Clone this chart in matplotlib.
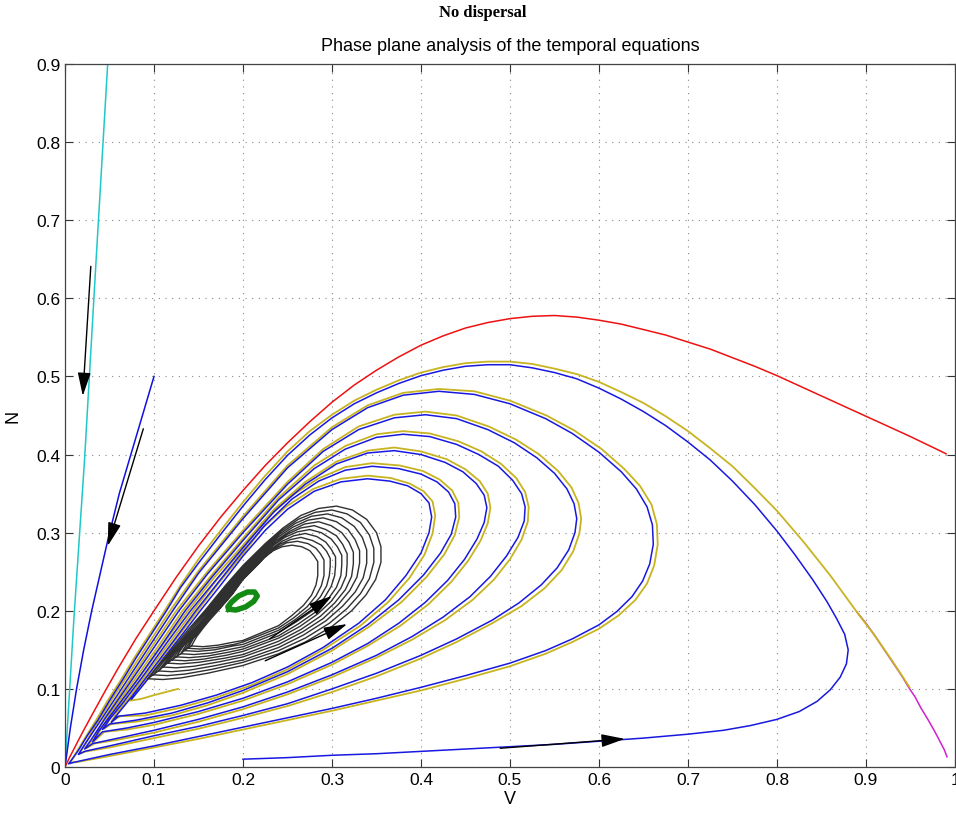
import matplotlib.pyplot as plt
import numpy as np

# trajectories, (V, N) pairs
cyan_line = [(0.0, 0.0), (0.010, 0.19), (0.022, 0.394), (0.035, 0.65), (0.049, 0.92)]

blue_left = [(0.1, 0.5), (0.087, 0.45), (0.074, 0.4), (0.061, 0.35), (0.048, 0.29),
             (0.038, 0.24), (0.03, 0.2), (0.021, 0.15), (0.013, 0.1), (0.006, 0.05), (0.0, 0.0)]

red_curve = [(0.0, 0.0), (0.005, 0.012), (0.01, 0.023), (0.02, 0.045), (0.03, 0.066), (0.045, 0.097),
             (0.06, 0.127), (0.08, 0.165), (0.1, 0.2), (0.125, 0.243), (0.15, 0.283), (0.175, 0.32),
             (0.2, 0.354), (0.225, 0.386), (0.25, 0.415), (0.275, 0.442), (0.3, 0.467), (0.325, 0.489),
             (0.35, 0.508), (0.375, 0.525), (0.4, 0.54), (0.425, 0.552), (0.45, 0.562), (0.475, 0.569),
             (0.5, 0.574), (0.525, 0.577), (0.55, 0.578), (0.575, 0.576), (0.6, 0.572), (0.625, 0.567),
             (0.65, 0.56), (0.675, 0.553), (0.7, 0.544), (0.725, 0.535), (0.75, 0.524), (0.775, 0.513),
             (0.8, 0.501), (0.825, 0.488), (0.85, 0.475), (0.875, 0.462), (0.9, 0.449), (0.925, 0.436),
             (0.95, 0.423), (0.97, 0.412), (0.99, 0.401)]

magenta_tail = [(0.991, 0.013), (0.988, 0.022), (0.983, 0.033), (0.977, 0.046), (0.97, 0.06),
                (0.962, 0.075), (0.955, 0.09), (0.949, 0.1), (0.94, 0.117), (0.93, 0.134), (0.92, 0.151),
                (0.91, 0.168), (0.9, 0.184), (0.89, 0.198)]

blue_spiral = [
    [(0.2, 0.010), (0.25, 0.012), (0.3, 0.015), (0.35, 0.017), (0.4, 0.02), (0.45, 0.023), (0.5, 0.026),
     (0.55, 0.029), (0.6, 0.033), (0.65, 0.037), (0.7, 0.042), (0.74, 0.047), (0.77, 0.053), (0.8, 0.061),
     (0.825, 0.071), (0.845, 0.084), (0.86, 0.099), (0.871, 0.115), (0.878, 0.132), (0.88, 0.15),
     (0.876, 0.17), (0.867, 0.19), (0.856, 0.212), (0.84, 0.24), (0.82, 0.272), (0.8, 0.302),
     (0.775, 0.336), (0.75, 0.366), (0.725, 0.393), (0.7, 0.416), (0.675, 0.437), (0.65, 0.455),
     (0.625, 0.471), (0.6, 0.485), (0.575, 0.497), (0.55, 0.505), (0.525, 0.511), (0.5, 0.515),
     (0.475, 0.515), (0.45, 0.513), (0.425, 0.508), (0.4, 0.501), (0.375, 0.491), (0.35, 0.479),
     (0.325, 0.465), (0.3, 0.447), (0.275, 0.425), (0.25, 0.399), (0.225, 0.368), (0.2, 0.334),
     (0.175, 0.298), (0.15, 0.261), (0.13, 0.23), (0.114, 0.2), (0.097, 0.17), (0.08, 0.14),
     (0.065, 0.112), (0.05, 0.085), (0.037, 0.06), (0.025, 0.04), (0.016, 0.023), (0.01, 0.013),
     (0.004, 0.004)],
    [(0.01, 0.006), (0.05, 0.016), (0.1, 0.027), (0.15, 0.039), (0.2, 0.051), (0.25, 0.063), (0.3, 0.075),
     (0.35, 0.088), (0.4, 0.102), (0.45, 0.117), (0.5, 0.133), (0.54, 0.149), (0.57, 0.164), (0.6, 0.182),
     (0.62, 0.199), (0.637, 0.218), (0.649, 0.238), (0.657, 0.26), (0.661, 0.285), (0.66, 0.31),
     (0.654, 0.333), (0.642, 0.356), (0.625, 0.378), (0.6, 0.403), (0.57, 0.427), (0.54, 0.446),
     (0.5, 0.465), (0.46, 0.477), (0.42, 0.481), (0.38, 0.476), (0.34, 0.46), (0.3, 0.432), (0.25, 0.383),
     (0.2, 0.318), (0.15, 0.248), (0.121, 0.2), (0.09, 0.146), (0.06, 0.094), (0.035, 0.051),
     (0.02, 0.025), (0.015, 0.016)],
    [(0.022, 0.02), (0.05, 0.027), (0.1, 0.04), (0.15, 0.052), (0.2, 0.066), (0.25, 0.081), (0.3, 0.1),
     (0.35, 0.12), (0.4, 0.143), (0.44, 0.164), (0.48, 0.188), (0.51, 0.21), (0.535, 0.233), (0.553, 0.255),
     (0.566, 0.278), (0.573, 0.3), (0.575, 0.318), (0.572, 0.337), (0.564, 0.356), (0.55, 0.376),
     (0.53, 0.396), (0.505, 0.415), (0.475, 0.432), (0.44, 0.446), (0.405, 0.451), (0.37, 0.447),
     (0.33, 0.432), (0.29, 0.404), (0.25, 0.362), (0.2, 0.3), (0.16, 0.247), (0.128, 0.2), (0.1, 0.153),
     (0.07, 0.103), (0.045, 0.062), (0.03, 0.036), (0.022, 0.023)],
    [(0.031, 0.03), (0.06, 0.037), (0.1, 0.047), (0.15, 0.061), (0.2, 0.077), (0.25, 0.096), (0.3, 0.118),
     (0.35, 0.143), (0.39, 0.167), (0.425, 0.192), (0.455, 0.218), (0.478, 0.244), (0.496, 0.27),
     (0.509, 0.294), (0.516, 0.315), (0.517, 0.333), (0.513, 0.35), (0.503, 0.367), (0.487, 0.385),
     (0.465, 0.4), (0.44, 0.413), (0.41, 0.423), (0.38, 0.426), (0.35, 0.422), (0.315, 0.407),
     (0.28, 0.382), (0.24, 0.342), (0.2, 0.29), (0.165, 0.243), (0.135, 0.2), (0.108, 0.155),
     (0.08, 0.11), (0.055, 0.072), (0.038, 0.046), (0.031, 0.032)],
    [(0.042, 0.045), (0.07, 0.05), (0.1, 0.057), (0.15, 0.071), (0.2, 0.088), (0.25, 0.109), (0.3, 0.134),
     (0.34, 0.158), (0.375, 0.184), (0.405, 0.211), (0.43, 0.239), (0.449, 0.266), (0.463, 0.292),
     (0.471, 0.313), (0.474, 0.332), (0.471, 0.348), (0.462, 0.363), (0.447, 0.378), (0.427, 0.39),
     (0.4, 0.4), (0.37, 0.405), (0.34, 0.402), (0.305, 0.388), (0.27, 0.362), (0.235, 0.327),
     (0.2, 0.281), (0.17, 0.24), (0.141, 0.2), (0.115, 0.16), (0.09, 0.12), (0.065, 0.082),
     (0.05, 0.061), (0.042, 0.048)],
    [(0.05, 0.055), (0.08, 0.06), (0.12, 0.069), (0.16, 0.082), (0.2, 0.098), (0.25, 0.122), (0.3, 0.152),
     (0.34, 0.182), (0.375, 0.214), (0.403, 0.246), (0.422, 0.274), (0.434, 0.298), (0.439, 0.32),
     (0.438, 0.337), (0.431, 0.352), (0.418, 0.365), (0.4, 0.375), (0.375, 0.382), (0.345, 0.385),
     (0.315, 0.38), (0.285, 0.366), (0.255, 0.343), (0.225, 0.31), (0.2, 0.276), (0.172, 0.236),
     (0.147, 0.2), (0.125, 0.166), (0.1, 0.128), (0.075, 0.09), (0.06, 0.069), (0.052, 0.057)],
    [(0.06, 0.065), (0.09, 0.069), (0.13, 0.079), (0.17, 0.092), (0.21, 0.108), (0.25, 0.128),
     (0.29, 0.153), (0.33, 0.184), (0.36, 0.214), (0.383, 0.245), (0.4, 0.274), (0.409, 0.3),
     (0.412, 0.32), (0.409, 0.338), (0.4, 0.35), (0.385, 0.36), (0.365, 0.366), (0.34, 0.369),
     (0.31, 0.365), (0.28, 0.353), (0.25, 0.33), (0.225, 0.303), (0.2, 0.27), (0.175, 0.233),
     (0.152, 0.2), (0.132, 0.17), (0.11, 0.138), (0.09, 0.108), (0.075, 0.087)],
]

yellow_spiral = [
    [(0.949, 0.102), (0.93, 0.135), (0.91, 0.168), (0.89, 0.198), (0.86, 0.245), (0.83, 0.288),
     (0.8, 0.328), (0.775, 0.357), (0.75, 0.385), (0.725, 0.408), (0.7, 0.43), (0.675, 0.449),
     (0.65, 0.466), (0.625, 0.48), (0.6, 0.493), (0.575, 0.503), (0.55, 0.51), (0.525, 0.516),
     (0.5, 0.519), (0.475, 0.519), (0.45, 0.517), (0.425, 0.512), (0.4, 0.505), (0.375, 0.495),
     (0.35, 0.483), (0.325, 0.469), (0.3, 0.451), (0.275, 0.43), (0.25, 0.404), (0.225, 0.373),
     (0.2, 0.339), (0.175, 0.303), (0.15, 0.266), (0.13, 0.233), (0.112, 0.2), (0.095, 0.17),
     (0.078, 0.14), (0.062, 0.11), (0.048, 0.085), (0.035, 0.06), (0.024, 0.04), (0.015, 0.023),
     (0.009, 0.012), (0.006, 0.006)],
    [(0.012, 0.006), (0.05, 0.014), (0.1, 0.025), (0.15, 0.036), (0.2, 0.048), (0.25, 0.06), (0.3, 0.072),
     (0.35, 0.085), (0.4, 0.098), (0.45, 0.113), (0.5, 0.129), (0.54, 0.145), (0.57, 0.16), (0.6, 0.177),
     (0.622, 0.194), (0.641, 0.214), (0.654, 0.235), (0.662, 0.258), (0.666, 0.285), (0.665, 0.311),
     (0.659, 0.336), (0.646, 0.36), (0.628, 0.382), (0.603, 0.407), (0.572, 0.431), (0.541, 0.45),
     (0.5, 0.469), (0.46, 0.481), (0.42, 0.484), (0.38, 0.479), (0.34, 0.463), (0.3, 0.435),
     (0.25, 0.386), (0.2, 0.321), (0.15, 0.251), (0.118, 0.2), (0.087, 0.146), (0.057, 0.094),
     (0.033, 0.051), (0.02, 0.024), (0.016, 0.017)],
    [(0.024, 0.02), (0.05, 0.025), (0.1, 0.037), (0.15, 0.049), (0.2, 0.063), (0.25, 0.078), (0.3, 0.096),
     (0.35, 0.116), (0.4, 0.139), (0.44, 0.16), (0.48, 0.184), (0.513, 0.206), (0.539, 0.229),
     (0.558, 0.252), (0.571, 0.276), (0.578, 0.299), (0.58, 0.318), (0.577, 0.338), (0.569, 0.358),
     (0.554, 0.379), (0.533, 0.4), (0.507, 0.419), (0.476, 0.436), (0.44, 0.45), (0.405, 0.455),
     (0.37, 0.451), (0.33, 0.436), (0.29, 0.407), (0.25, 0.365), (0.2, 0.303), (0.16, 0.25),
     (0.125, 0.2), (0.097, 0.153), (0.068, 0.103), (0.044, 0.062), (0.031, 0.035), (0.024, 0.024)],
    [(0.033, 0.03), (0.06, 0.035), (0.1, 0.044), (0.15, 0.058), (0.2, 0.074), (0.25, 0.093), (0.3, 0.115),
     (0.35, 0.14), (0.39, 0.163), (0.427, 0.188), (0.458, 0.214), (0.482, 0.24), (0.5, 0.266),
     (0.513, 0.291), (0.52, 0.314), (0.521, 0.333), (0.517, 0.352), (0.507, 0.37), (0.49, 0.388),
     (0.468, 0.404), (0.442, 0.417), (0.41, 0.427), (0.38, 0.43), (0.35, 0.426), (0.315, 0.411),
     (0.28, 0.386), (0.24, 0.345), (0.2, 0.293), (0.165, 0.246), (0.132, 0.2), (0.105, 0.155),
     (0.077, 0.11), (0.053, 0.072), (0.039, 0.046), (0.033, 0.033)],
    [(0.044, 0.045), (0.07, 0.048), (0.1, 0.054), (0.15, 0.068), (0.2, 0.085), (0.25, 0.106), (0.3, 0.131),
     (0.34, 0.155), (0.377, 0.181), (0.408, 0.208), (0.434, 0.237), (0.453, 0.264), (0.467, 0.29),
     (0.475, 0.312), (0.478, 0.332), (0.475, 0.35), (0.466, 0.366), (0.45, 0.381), (0.429, 0.394),
     (0.4, 0.404), (0.37, 0.409), (0.34, 0.405), (0.305, 0.391), (0.27, 0.365), (0.235, 0.33),
     (0.2, 0.284), (0.168, 0.243), (0.138, 0.2), (0.112, 0.16), (0.087, 0.12), (0.063, 0.082),
     (0.05, 0.061), (0.044, 0.049)],
    [(0.052, 0.055), (0.08, 0.058), (0.12, 0.066), (0.16, 0.079), (0.2, 0.095), (0.25, 0.119),
     (0.3, 0.149), (0.341, 0.179), (0.378, 0.211), (0.406, 0.243), (0.426, 0.272), (0.438, 0.297),
     (0.443, 0.32), (0.442, 0.338), (0.435, 0.354), (0.421, 0.368), (0.402, 0.379), (0.376, 0.386),
     (0.345, 0.389), (0.315, 0.384), (0.284, 0.369), (0.253, 0.346), (0.222, 0.313), (0.2, 0.279),
     (0.17, 0.239), (0.144, 0.2), (0.122, 0.166), (0.097, 0.128), (0.073, 0.09), (0.058, 0.069),
     (0.052, 0.058)],
    [(0.062, 0.065), (0.09, 0.066), (0.13, 0.076), (0.17, 0.089), (0.21, 0.105), (0.25, 0.125),
     (0.29, 0.15), (0.332, 0.181), (0.363, 0.211), (0.387, 0.242), (0.404, 0.272), (0.413, 0.299),
     (0.416, 0.322), (0.413, 0.34), (0.403, 0.353), (0.387, 0.363), (0.366, 0.37), (0.34, 0.373),
     (0.31, 0.369), (0.279, 0.356), (0.248, 0.333), (0.222, 0.306), (0.2, 0.273), (0.173, 0.236),
     (0.149, 0.2), (0.129, 0.17), (0.108, 0.138), (0.088, 0.108), (0.073, 0.085), (0.085, 0.087),
     (0.1, 0.092), (0.127, 0.1)],
]

black_spiral = [
    [(0.093, 0.113), (0.11, 0.112), (0.13, 0.114), (0.16, 0.12), (0.2, 0.13), (0.24, 0.145), (0.27, 0.16),
     (0.3, 0.18), (0.322, 0.2), (0.338, 0.22), (0.349, 0.24), (0.355, 0.262), (0.355, 0.282), (0.35, 0.3),
     (0.339, 0.317), (0.323, 0.329), (0.305, 0.334), (0.285, 0.331), (0.265, 0.322), (0.245, 0.306),
     (0.225, 0.286), (0.2, 0.258), (0.18, 0.232), (0.157, 0.2), (0.14, 0.178), (0.122, 0.153),
     (0.105, 0.13), (0.093, 0.113)],
    [(0.099, 0.118), (0.115, 0.117), (0.135, 0.119), (0.165, 0.125), (0.2, 0.134), (0.24, 0.149),
     (0.27, 0.165), (0.297, 0.184), (0.317, 0.203), (0.332, 0.222), (0.342, 0.241), (0.347, 0.262),
     (0.347, 0.28), (0.342, 0.297), (0.332, 0.313), (0.317, 0.324), (0.3, 0.329), (0.281, 0.326),
     (0.262, 0.317), (0.243, 0.302), (0.224, 0.283), (0.2, 0.256), (0.181, 0.231), (0.159, 0.2),
     (0.143, 0.179), (0.127, 0.157), (0.11, 0.134), (0.099, 0.118)],
    [(0.105, 0.123), (0.12, 0.122), (0.14, 0.124), (0.17, 0.13), (0.2, 0.137), (0.24, 0.153),
     (0.268, 0.169), (0.293, 0.187), (0.312, 0.206), (0.326, 0.224), (0.335, 0.242), (0.339, 0.261),
     (0.339, 0.278), (0.334, 0.294), (0.325, 0.308), (0.311, 0.319), (0.295, 0.324), (0.277, 0.321),
     (0.259, 0.312), (0.241, 0.298), (0.223, 0.28), (0.2, 0.254), (0.182, 0.23), (0.161, 0.2),
     (0.146, 0.18), (0.131, 0.16), (0.115, 0.138), (0.105, 0.123)],
    [(0.11, 0.128), (0.125, 0.127), (0.145, 0.129), (0.175, 0.135), (0.2, 0.141), (0.24, 0.157),
     (0.267, 0.173), (0.29, 0.19), (0.307, 0.208), (0.32, 0.226), (0.328, 0.243), (0.331, 0.261),
     (0.331, 0.277), (0.326, 0.291), (0.318, 0.304), (0.305, 0.314), (0.29, 0.319), (0.273, 0.316),
     (0.256, 0.307), (0.239, 0.294), (0.222, 0.277), (0.2, 0.252), (0.183, 0.229), (0.163, 0.2),
     (0.149, 0.181), (0.135, 0.163), (0.12, 0.143), (0.11, 0.128)],
    [(0.115, 0.133), (0.13, 0.132), (0.15, 0.134), (0.178, 0.139), (0.2, 0.144), (0.24, 0.161),
     (0.265, 0.176), (0.287, 0.193), (0.303, 0.21), (0.315, 0.227), (0.322, 0.244), (0.324, 0.26),
     (0.324, 0.275), (0.319, 0.288), (0.311, 0.3), (0.299, 0.309), (0.285, 0.314), (0.269, 0.311),
     (0.253, 0.302), (0.237, 0.29), (0.221, 0.274), (0.2, 0.25), (0.184, 0.228), (0.165, 0.2),
     (0.152, 0.183), (0.139, 0.166), (0.125, 0.148), (0.115, 0.133)],
    [(0.12, 0.137), (0.135, 0.136), (0.155, 0.138), (0.181, 0.143), (0.2, 0.148), (0.24, 0.165),
     (0.264, 0.18), (0.284, 0.196), (0.299, 0.212), (0.31, 0.229), (0.316, 0.245), (0.317, 0.26),
     (0.317, 0.273), (0.312, 0.285), (0.305, 0.296), (0.293, 0.304), (0.28, 0.309), (0.265, 0.306),
     (0.25, 0.298), (0.235, 0.286), (0.22, 0.271), (0.2, 0.248), (0.184, 0.226), (0.166, 0.2),
     (0.154, 0.184), (0.142, 0.168), (0.129, 0.151), (0.12, 0.137)],
    [(0.125, 0.141), (0.14, 0.14), (0.16, 0.142), (0.184, 0.147), (0.2, 0.151), (0.24, 0.168),
     (0.262, 0.183), (0.281, 0.198), (0.295, 0.214), (0.305, 0.23), (0.31, 0.245), (0.311, 0.259),
     (0.311, 0.271), (0.306, 0.282), (0.299, 0.292), (0.288, 0.3), (0.275, 0.304), (0.261, 0.301),
     (0.247, 0.294), (0.233, 0.283), (0.219, 0.268), (0.2, 0.246), (0.185, 0.225), (0.167, 0.2),
     (0.156, 0.186), (0.145, 0.171), (0.133, 0.155), (0.125, 0.141)],
    [(0.13, 0.145), (0.145, 0.144), (0.165, 0.146), (0.187, 0.151), (0.2, 0.154), (0.24, 0.172),
     (0.26, 0.186), (0.278, 0.2), (0.291, 0.216), (0.299, 0.231), (0.303, 0.245), (0.304, 0.258),
     (0.304, 0.269), (0.299, 0.279), (0.293, 0.288), (0.283, 0.295), (0.27, 0.299), (0.257, 0.296),
     (0.244, 0.289), (0.231, 0.279), (0.218, 0.265), (0.2, 0.244), (0.186, 0.224), (0.169, 0.2),
     (0.158, 0.187), (0.148, 0.173), (0.137, 0.158), (0.13, 0.145)],
    [(0.134, 0.149), (0.149, 0.148), (0.168, 0.15), (0.189, 0.155), (0.2, 0.157), (0.24, 0.175),
     (0.259, 0.189), (0.275, 0.203), (0.287, 0.218), (0.294, 0.232), (0.297, 0.245), (0.298, 0.257),
     (0.298, 0.267), (0.294, 0.276), (0.288, 0.284), (0.278, 0.29), (0.265, 0.294), (0.253, 0.291),
     (0.241, 0.285), (0.229, 0.275), (0.217, 0.262), (0.2, 0.243), (0.187, 0.223), (0.17, 0.2),
     (0.16, 0.188), (0.151, 0.175), (0.141, 0.161), (0.134, 0.149)],
    [(0.138, 0.152), (0.152, 0.151), (0.17, 0.153), (0.19, 0.157), (0.2, 0.16), (0.24, 0.178),
     (0.257, 0.191), (0.272, 0.205), (0.282, 0.219), (0.288, 0.232), (0.291, 0.245), (0.291, 0.256),
     (0.291, 0.265), (0.287, 0.273), (0.282, 0.28), (0.273, 0.286), (0.261, 0.289), (0.249, 0.287),
     (0.238, 0.281), (0.227, 0.272), (0.216, 0.259), (0.2, 0.241), (0.188, 0.222), (0.171, 0.2),
     (0.162, 0.189), (0.153, 0.177), (0.144, 0.164), (0.138, 0.152)],
    [(0.142, 0.155), (0.155, 0.154), (0.172, 0.156), (0.19, 0.16), (0.2, 0.162), (0.24, 0.181),
     (0.255, 0.194), (0.268, 0.207), (0.277, 0.22), (0.282, 0.233), (0.284, 0.245), (0.284, 0.255),
     (0.284, 0.263), (0.28, 0.27), (0.275, 0.277), (0.266, 0.282), (0.255, 0.284), (0.244, 0.282),
     (0.234, 0.277), (0.224, 0.268), (0.214, 0.256), (0.2, 0.24), (0.188, 0.221), (0.172, 0.2),
     (0.164, 0.19), (0.156, 0.179), (0.148, 0.167), (0.142, 0.155)],
]

green_cycle = [(0.184, 0.202), (0.192, 0.201), (0.203, 0.205), (0.212, 0.212), (0.216, 0.219),
               (0.213, 0.224), (0.205, 0.224), (0.195, 0.219), (0.187, 0.211), (0.183, 0.205), (0.184, 0.202)]

# direction arrows: (tail, head)
arrows = [
    ((0.029, 0.641), (0.020, 0.475)),
    ((0.088, 0.433), (0.048, 0.283)),
    ((0.230, 0.164), (0.300, 0.219)),
    ((0.225, 0.136), (0.317, 0.183)),
    ((0.489, 0.024), (0.629, 0.036)),
]

x_ticks = [0, 0.1, 0.2, 0.3, 0.4, 0.5, 0.6, 0.7, 0.8, 0.9, 1]
x_tick_labels = ["0", "0.1", "0.2", "0.3", "0.4", "0.5", "0.6", "0.7", "0.8", "0.9", "1"]
y_ticks = [0, 0.1, 0.2, 0.3, 0.4, 0.5, 0.6, 0.7, 0.8, 0.9]
y_tick_labels = ["0", "0.1", "0.2", "0.3", "0.4", "0.5", "0.6", "0.7", "0.8", "0.9"]


def xy(points):
    arr = np.asarray(points, dtype=float)
    return arr[:, 0], arr[:, 1]


def joined(loops):
    return [p for loop in loops for p in loop]


plt.rcParams["font.family"] = ["Liberation Sans", "DejaVu Sans"]

fig = plt.figure(figsize=(9.56, 8.2), dpi=100)
ax = fig.add_axes([65 / 956, 52 / 820, 890 / 956, 703 / 820])

ax.plot(*xy(cyan_line), color="#20c8c8", lw=1.1)
ax.plot(*xy(blue_left), color="#1010e0", lw=1.1)
ax.plot(*xy(red_curve), color="#ee1111", lw=1.1)
ax.plot(*xy(magenta_tail), color="#d020d0", lw=1.1)
ax.plot(*xy(joined(yellow_spiral)), color="#c8b420", lw=1.3)
ax.plot(*xy(joined(blue_spiral)), color="#1818e0", lw=1.1)
ax.plot(*xy(joined(black_spiral)), color="#303030", lw=1.0)
ax.plot(*xy(green_cycle), color="#138a13", lw=4)

for tail, head in arrows:
    ax.annotate("", xy=head, xytext=tail,
                arrowprops=dict(arrowstyle="-|>,head_length=0.9,head_width=0.25",
                                color="black", lw=1.0, mutation_scale=16,
                                shrinkA=0, shrinkB=0))

ax.set_xlim(0, 1)
ax.set_ylim(0, 0.9)
ax.set_xticks(x_ticks)
ax.set_xticklabels(x_tick_labels)
ax.set_yticks(y_ticks)
ax.set_yticklabels(y_tick_labels)
ax.tick_params(direction="in", length=6, width=0.8, top=True, right=True,
               labelsize=12.5, colors="#333333", labelcolor="black")
ax.grid(True, color="#888888", linestyle=(0, (1, 5)), lw=0.8)
for spine in ax.spines.values():
    spine.set_color("#444444")
    spine.set_linewidth(0.9)

ax.set_xlabel("V", fontsize=13, labelpad=2)
ax.set_ylabel("N", fontsize=13, labelpad=10)
ax.set_title("Phase plane analysis of the temporal equations", fontsize=13, pad=10)
fig.text(0.505, 1 - 13 / 820, "No dispersal", ha="center", va="center",
         fontsize=12, fontweight="bold", family=["Liberation Serif", "DejaVu Serif"])

fig.savefig("out.png", dpi=100)
plt.close(fig)
